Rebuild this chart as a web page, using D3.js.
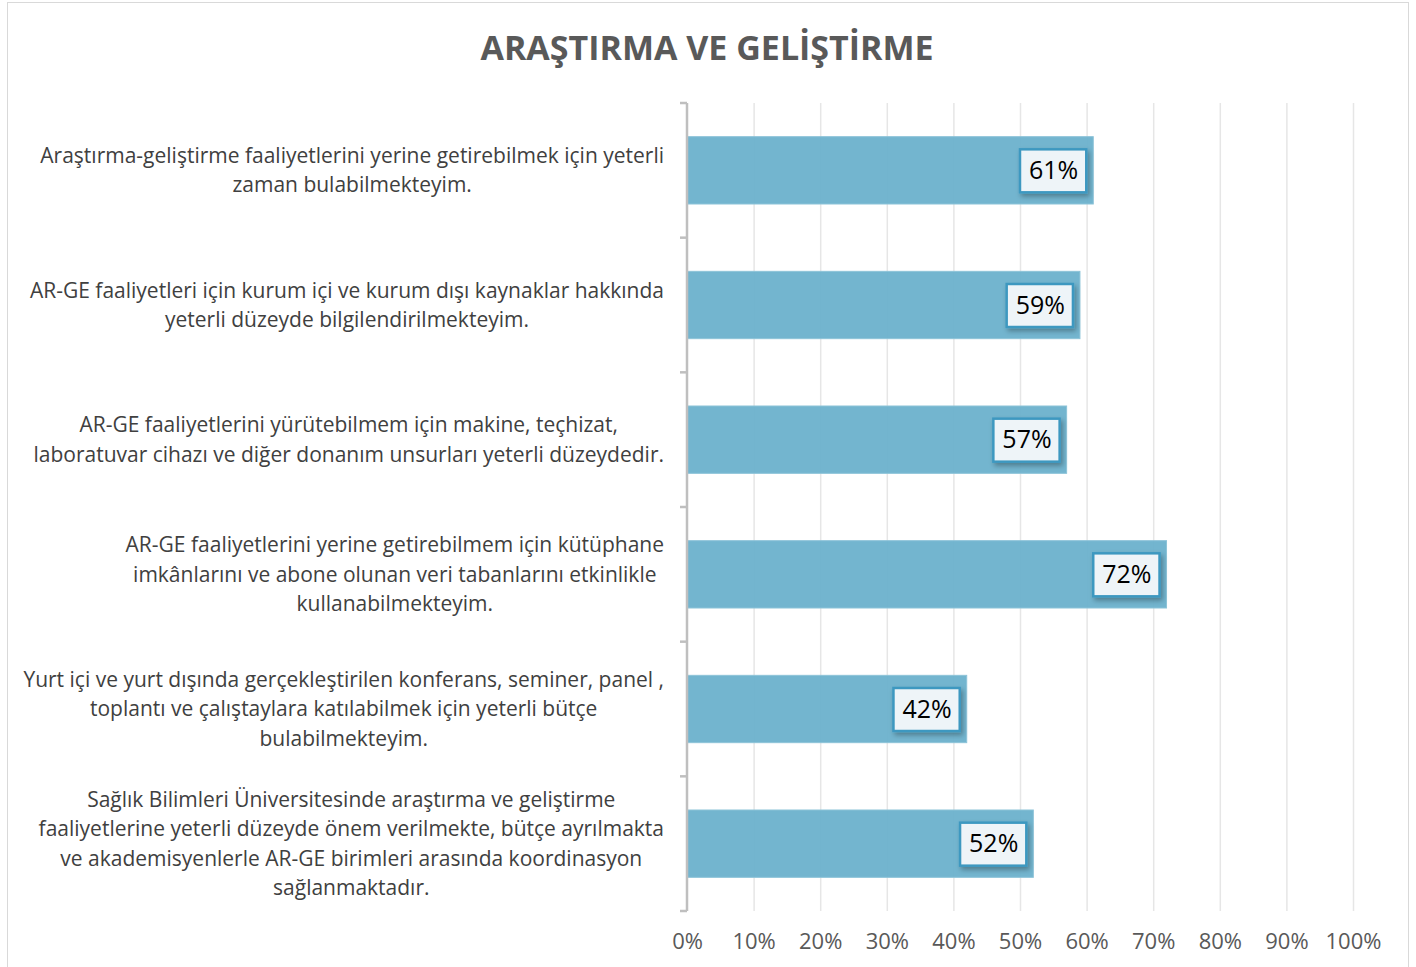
<!DOCTYPE html>
<html lang="tr">
<head>
<meta charset="utf-8">
<title>Araştırma ve Geliştirme</title>
<script src="https://d3js.org/d3.v7.min.js"></script>
<style>
  body { margin: 0; background: #fff; }
  svg { display: block; font-family: "Open Sans", sans-serif; }
</style>
</head>
<body>
<script>
const title = "ARAŞTIRMA VE GELİŞTİRME";

// each category is a list of the lines as they wrap in the chart
const categories = [
  ["Araştırma-geliştirme faaliyetlerini yerine getirebilmek için yeterli", "zaman bulabilmekteyim."],
  ["AR-GE faaliyetleri için kurum içi ve kurum dışı kaynaklar hakkında", "yeterli düzeyde bilgilendirilmekteyim."],
  ["AR-GE faaliyetlerini yürütebilmem için makine, teçhizat,", "laboratuvar cihazı ve diğer donanım unsurları yeterli düzeydedir."],
  ["AR-GE faaliyetlerini yerine getirebilmem için kütüphane", "imkânlarını ve abone olunan veri tabanlarını etkinlikle", "kullanabilmekteyim."],
  ["Yurt içi ve yurt dışında gerçekleştirilen konferans, seminer, panel ,", "toplantı ve çalıştaylara katılabilmek için yeterli bütçe", "bulabilmekteyim."],
  ["Sağlık Bilimleri Üniversitesinde araştırma ve geliştirme", "faaliyetlerine yeterli düzeyde önem verilmekte, bütçe ayrılmakta", "ve akademisyenlerle AR-GE birimleri arasında koordinasyon", "sağlanmaktadır."]
];
const values = [0.61, 0.59, 0.57, 0.72, 0.42, 0.52];
const xTicks = [0, 0.1, 0.2, 0.3, 0.4, 0.5, 0.6, 0.7, 0.8, 0.9, 1.0];

const width = 1416, height = 967;
const margin = { top: 103, right: 63, bottom: 56, left: 687 };

const svg = d3.select(document.body).append("svg")
  .attr("width", width).attr("height", height);

const defs = svg.append("defs");
const shadow = defs.append("filter").attr("id", "shadow")
  .attr("x", "-20%").attr("y", "-20%").attr("width", "150%").attr("height", "160%");
shadow.append("feDropShadow").attr("dx", 2).attr("dy", 3).attr("stdDeviation", 2.5)
  .attr("flood-color", "#000").attr("flood-opacity", 0.3);

// chart frame
svg.append("rect").attr("x", 7.5).attr("y", 2.5).attr("width", 1401).attr("height", 970)
  .attr("fill", "#fff").attr("stroke", "#d9d9d9");

svg.append("text").attr("x", 707).attr("y", 60).attr("text-anchor", "middle")
  .attr("font-size", 34).attr("font-weight", 700).attr("fill", "#595959")
  .text(title);

const x = d3.scaleLinear().domain([0, 1]).range([margin.left, width - margin.right]);
const y = d3.scaleBand().domain(d3.range(categories.length))
  .range([margin.top, height - margin.bottom]).paddingInner(0.5).paddingOuter(0.25);

const y0 = margin.top, y1 = height - margin.bottom;

// vertical gridlines
svg.append("g").selectAll("line").data(xTicks.slice(1)).join("line")
  .attr("x1", d => x(d) + 0.5).attr("x2", d => x(d) + 0.5)
  .attr("y1", y0).attr("y2", y1)
  .attr("stroke", "#e6e6e6").attr("stroke-width", 1.5);

// x axis labels
const xAxis = svg.append("g").attr("transform", `translate(0,${y1})`)
  .call(d3.axisBottom(x).tickValues(xTicks).tickFormat(d3.format(".0%")).tickSize(0).tickPadding(22));
xAxis.select(".domain").remove();
xAxis.selectAll("text").attr("font-size", 22).attr("fill", "#595959")
  .attr("font-family", "Open Sans, sans-serif");

// bars (slightly see-through, gridlines show faintly)
svg.append("g").selectAll("rect").data(values).join("rect")
  .attr("x", x(0)).attr("y", (d, i) => y(i))
  .attr("width", d => x(d) - x(0)).attr("height", y.bandwidth())
  .attr("fill", "#6cb1cc").attr("fill-opacity", 0.95)
  .attr("stroke", "#8cc3d8").attr("stroke-width", 1);

// y axis line with ticks between categories
const boundaries = d3.range(categories.length + 1).map(i => y0 + i * (y1 - y0) / categories.length);
const yAxis = svg.append("g");
yAxis.append("line").attr("x1", x(0)).attr("x2", x(0)).attr("y1", y0).attr("y2", y1)
  .attr("stroke", "#bfbfbf").attr("stroke-width", 2.5);
yAxis.selectAll("line.tick").data(boundaries).join("line").attr("class", "tick")
  .attr("x1", x(0) - 7).attr("x2", x(0)).attr("y1", d => d).attr("y2", d => d)
  .attr("stroke", "#bfbfbf").attr("stroke-width", 2.5);

// category labels: centred lines, block right-aligned to the axis
const lineH = 29.5;
const labelRight = 664;
categories.forEach((lines, i) => {
  const g = svg.append("g");
  const cy = y(i) + y.bandwidth() / 2;
  const top = cy - (lines.length - 1) * lineH / 2;
  const t = g.selectAll("text").data(lines).join("text")
    .attr("y", (d, j) => top + j * lineH)
    .attr("dy", "0.35em")
    .attr("text-anchor", "middle")
    .attr("font-size", 21).attr("fill", "#404040")
    .text(d => d);
  const maxW = d3.max(t.nodes(), n => n.getComputedTextLength());
  t.attr("x", labelRight - maxW / 2);
});

// data labels
const labels = svg.append("g").selectAll("g").data(values).join("g")
  .attr("transform", (d, i) => `translate(${x(d) - 7},${y(i) + y.bandwidth() / 2})`);
labels.each(function(d) {
  const g = d3.select(this);
  const txt = g.append("text").attr("text-anchor", "end").attr("x", -8).attr("dy", "0.35em")
    .attr("font-size", 25).attr("fill", "#000").text(d3.format(".0%")(d));
  const w = txt.node().getComputedTextLength();
  g.insert("rect", "text").attr("x", -w - 17).attr("y", -21).attr("width", w + 17).attr("height", 43)
    .attr("fill", "#eef4f8").attr("stroke", "#3e98c0").attr("stroke-width", 2.5)
    .attr("filter", "url(#shadow)");
});
</script>
</body>
</html>
